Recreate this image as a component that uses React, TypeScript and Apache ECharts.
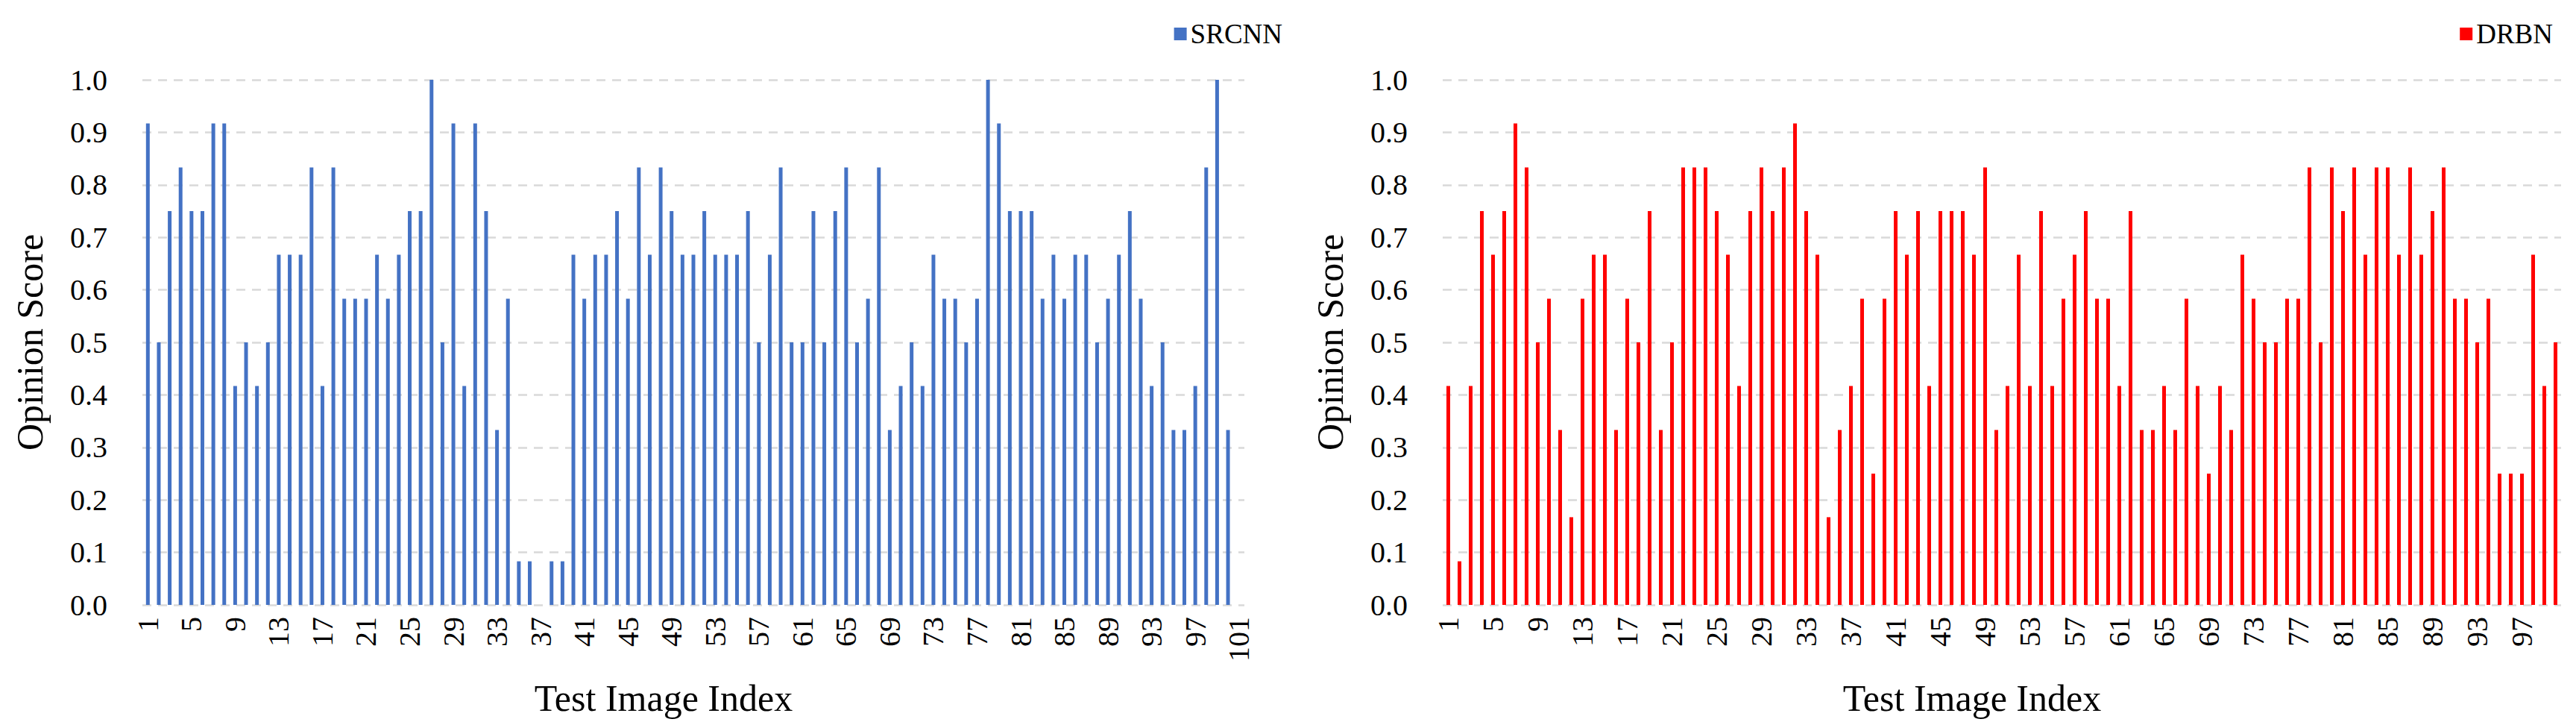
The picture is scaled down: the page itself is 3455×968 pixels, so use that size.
import React, { useEffect, useRef } from "react";
import * as echarts from "echarts";

const PAGE_W = 3455;
const PAGE_H = 968;

// Test image indices
const srcnnCategories = [
  "1","2","3","4","5","6","7","8","9","10","11","12","13","14","15","16","17","18","19","20",
  "21","22","23","24","25","26","27","28","29","30","31","32","33","34","35","36","37","38","39","40",
  "41","42","43","44","45","46","47","48","49","50","51","52","53","54","55","56","57","58","59","60",
  "61","62","63","64","65","66","67","68","69","70","71","72","73","74","75","76","77","78","79","80",
  "81","82","83","84","85","86","87","88","89","90","91","92","93","94","95","96","97","98","99","100",
  "101",
];
const drbnCategories = [
  "1","2","3","4","5","6","7","8","9","10","11","12","13","14","15","16","17","18","19","20",
  "21","22","23","24","25","26","27","28","29","30","31","32","33","34","35","36","37","38","39","40",
  "41","42","43","44","45","46","47","48","49","50","51","52","53","54","55","56","57","58","59","60",
  "61","62","63","64","65","66","67","68","69","70","71","72","73","74","75","76","77","78","79","80",
  "81","82","83","84","85","86","87","88","89","90","91","92","93","94","95","96","97","98","99","100",
];

// Opinion scores
const srcnnScores = [
  0.917, 0.5, 0.75, 0.833, 0.75, 0.75, 0.917, 0.917, 0.417, 0.5,
  0.417, 0.5, 0.667, 0.667, 0.667, 0.833, 0.417, 0.833, 0.583, 0.583,
  0.583, 0.667, 0.583, 0.667, 0.75, 0.75, 1.0, 0.5, 0.917, 0.417,
  0.917, 0.75, 0.333, 0.583, 0.083, 0.083, 0, 0.083, 0.083, 0.667,
  0.583, 0.667, 0.667, 0.75, 0.583, 0.833, 0.667, 0.833, 0.75, 0.667,
  0.667, 0.75, 0.667, 0.667, 0.667, 0.75, 0.5, 0.667, 0.833, 0.5,
  0.5, 0.75, 0.5, 0.75, 0.833, 0.5, 0.583, 0.833, 0.333, 0.417,
  0.5, 0.417, 0.667, 0.583, 0.583, 0.5, 0.583, 1.0, 0.917, 0.75,
  0.75, 0.75, 0.583, 0.667, 0.583, 0.667, 0.667, 0.5, 0.583, 0.667,
  0.75, 0.583, 0.417, 0.5, 0.333, 0.333, 0.417, 0.833, 1.0, 0.333,
  0,
];
const drbnScores = [
  0.417, 0.083, 0.417, 0.75, 0.667, 0.75, 0.917, 0.833, 0.5, 0.583,
  0.333, 0.167, 0.583, 0.667, 0.667, 0.333, 0.583, 0.5, 0.75, 0.333,
  0.5, 0.833, 0.833, 0.833, 0.75, 0.667, 0.417, 0.75, 0.833, 0.75,
  0.833, 0.917, 0.75, 0.667, 0.167, 0.333, 0.417, 0.583, 0.25, 0.583,
  0.75, 0.667, 0.75, 0.417, 0.75, 0.75, 0.75, 0.667, 0.833, 0.333,
  0.417, 0.667, 0.417, 0.75, 0.417, 0.583, 0.667, 0.75, 0.583, 0.583,
  0.417, 0.75, 0.333, 0.333, 0.417, 0.333, 0.583, 0.417, 0.25, 0.417,
  0.333, 0.667, 0.583, 0.5, 0.5, 0.583, 0.583, 0.833, 0.5, 0.833,
  0.75, 0.833, 0.667, 0.833, 0.833, 0.667, 0.833, 0.667, 0.75, 0.833,
  0.583, 0.583, 0.5, 0.583, 0.25, 0.25, 0.25, 0.667, 0.417, 0.5,
];

const FONT = '"Liberation Serif", "Times New Roman", serif';
const BLUE = "#4472C4";
const RED = "#FF0000";

function xAxisFor(gridIndex: number, data: string[]) {
  return {
    type: "category",
    gridIndex,
    data,
    boundaryGap: true,
    axisLine: { show: false },
    axisTick: { show: false },
    axisLabel: {
      interval: 3,
      rotate: 90,
      margin: 16,
      fontSize: 40,
      color: "#000",
      fontFamily: FONT,
    },
    splitLine: { show: false },
    name: "Test Image Index",
    nameLocation: "middle",
    nameGap: 100,
    nameMoveOverlap: false,
    nameTextStyle: {
      fontSize: 50,
      color: "#000",
      fontFamily: FONT,
      padding: [0, 80, 0, 0],
    },
  };
}

function yAxisFor(gridIndex: number) {
  return {
    type: "value",
    gridIndex,
    min: 0,
    max: 1,
    interval: 0.1,
    axisLine: { show: false },
    axisTick: { show: false },
    axisLabel: {
      margin: 47,
      fontSize: 40,
      color: "#000",
      fontFamily: FONT,
      formatter: (v: number) => v.toFixed(1),
    },
    splitLine: {
      show: true,
      lineStyle: { color: "#d9d9d9", width: 2.5, type: [12, 9] },
    },
    name: "Opinion Score",
    nameLocation: "middle",
    nameGap: 126,
    nameRotate: 90,
    nameMoveOverlap: false,
    nameTextStyle: {
      fontSize: 50,
      color: "#000",
      fontFamily: FONT,
    },
  };
}

const legendBase = {
  icon: "rect",
  itemWidth: 17,
  itemHeight: 17,
  itemGap: 6,
  textStyle: { fontSize: 37, color: "#000", fontFamily: FONT },
  selectedMode: false,
  top: 22,
};

export default function App() {
  const ref = useRef<HTMLDivElement>(null);

  useEffect(() => {
    if (!ref.current) return;
    const chart = echarts.init(ref.current, null, { renderer: "svg" });
    const option: any = {
      animation: false,
      backgroundColor: "#ffffff",
      textStyle: { fontFamily: FONT },
      legend: [
        { ...legendBase, data: ["SRCNN"], right: 1730 },
        { ...legendBase, data: ["DRBN"], right: 26 },
      ],
      grid: [
        { left: 191, right: PAGE_W - 1669, top: 107, bottom: PAGE_H - 811, containLabel: false, outerBoundsMode: "none" },
        { left: 1935, right: PAGE_W - 3435, top: 107, bottom: PAGE_H - 811, containLabel: false, outerBoundsMode: "none" },
      ],
      xAxis: [xAxisFor(0, srcnnCategories), xAxisFor(1, drbnCategories)],
      yAxis: [yAxisFor(0), yAxisFor(1)],
      series: [
        {
          name: "SRCNN",
          type: "bar",
          xAxisIndex: 0,
          yAxisIndex: 0,
          data: srcnnScores,
          barWidth: 5,
          itemStyle: { color: BLUE },
        },
        {
          name: "DRBN",
          type: "bar",
          xAxisIndex: 1,
          yAxisIndex: 1,
          data: drbnScores,
          barWidth: 5,
          itemStyle: { color: RED },
        },
      ],
    };
    chart.setOption(option);
    return () => chart.dispose();
  }, []);

  return (
    <div
      ref={ref}
      style={{
        position: "fixed",
        left: 0,
        top: 0,
        width: PAGE_W,
        height: PAGE_H,
        background: "#fff",
      }}
    />
  );
}
